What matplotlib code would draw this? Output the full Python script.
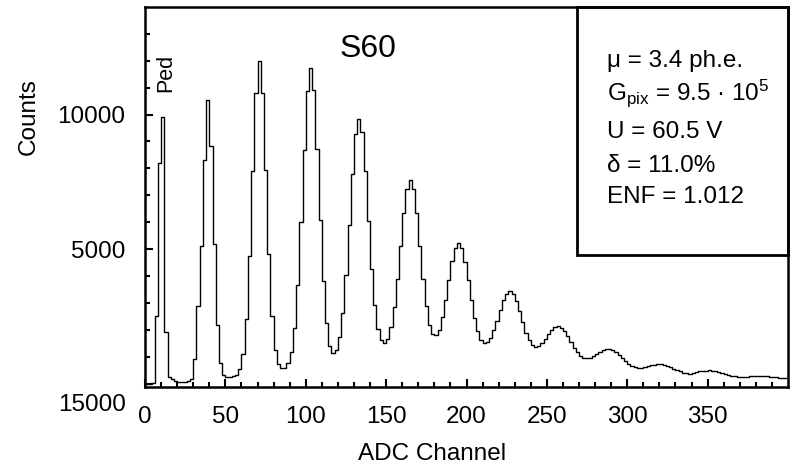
import numpy as np
import matplotlib
matplotlib.use("Agg")
import matplotlib.pyplot as plt
from matplotlib.patches import Rectangle

plt.rcParams['font.family'] = ['Liberation Sans', 'DejaVu Sans']
plt.rcParams['mathtext.fontset'] = 'custom'
plt.rcParams['mathtext.rm'] = 'Liberation Sans'
plt.rcParams['mathtext.it'] = 'Liberation Sans:italic'

# Counts per 2-channel bin (bin centres 1, 3, 5, ... 399)
counts = [
    0, 0, 20, 2500, 8200, 9900, 1900, 250, 150, 110,
    60, 40, 50, 75, 180, 900, 2900, 5110, 8300, 10550,
    8820, 5170, 2180, 760, 325, 250, 250, 262, 328, 527,
    1090, 2380, 4730, 7900, 10790, 12000, 10810, 7950, 4820, 2500,
    1250, 720, 575, 590, 750, 1165, 2060, 3670, 6000, 8670,
    10875, 11740, 10905, 8730, 6095, 3794, 2235, 1406, 1120, 1247,
    1717, 2630, 4040, 5880, 7800, 9270, 9850, 9340, 7910, 6050,
    4263, 2910, 2039, 1603, 1515, 1671, 2095, 2835, 3875, 5110,
    6330, 7240, 7570, 7240, 6327, 5105, 3886, 2866, 2175, 1827,
    1785, 2008, 2469, 3120, 3845, 4545, 5050, 5230, 5045, 4535,
    3833, 3098, 2435, 1936, 1636, 1507, 1543, 1707, 1986, 2340,
    2740, 3100, 3345, 3425, 3320, 3054, 2679, 2270, 1896, 1610,
    1430, 1358, 1390, 1498, 1658, 1835, 1992, 2106, 2140, 2076,
    1944, 1755, 1541, 1333, 1159, 1033, 960, 938, 960, 1011,
    1087, 1166, 1239, 1279, 1280, 1239, 1165, 1064, 949, 838,
    740, 665, 617, 595, 595, 613, 642, 673, 701, 720,
    715, 697, 659, 610, 555, 502, 457, 400, 375, 370,
    385, 410, 452, 473, 483, 485, 473, 451, 418, 380,
    341, 311, 280, 262, 253, 253, 251, 260, 266, 271,
    278, 280, 278, 269, 257, 244, 229, 215, 202, 192,
]
channels = np.arange(1, 2 * len(counts), 2)

x_ticks = [0, 50, 100, 150, 200, 250, 300, 350]
y_ticks = [0, 5000, 10000]
y_tick_labels = ['', '5000', '10000']
bottom_label = '15000'

box_lines = [
    'μ = 3.4 ph.e.',
    r'G$_{\mathrm{pix}}$ = 9.5 · 10$^{5}$',
    'U = 60.5 V',
    'δ = 11.0%',
    'ENF = 1.012',
]
box_line_y = [0.843, 0.755, 0.655, 0.566, 0.484]

W, H = 790, 468
fig = plt.figure(figsize=(W / 100, H / 100), dpi=100)
ax = fig.add_axes([145 / W, 1 - 387 / H, 643 / W, 380 / H])

ax.step(channels, counts, where='mid', color='black', lw=1.0)

ax.set_xlim(0, 400)
ax.set_ylim(-130, 14000)
ax.set_xticks(x_ticks)
ax.set_xticks(np.arange(0, 400, 10), minor=True)
ax.set_yticks(y_ticks)
ax.set_yticklabels(y_tick_labels)
ax.set_yticks(np.arange(0, 14000, 1000), minor=True)

ax.tick_params(which='both', direction='in', top=False, right=False,
               labelsize=17.5, pad=14, width=1.5)
ax.tick_params(which='major', length=6)
ax.tick_params(which='minor', length=3.5)
for s in ax.spines.values():
    s.set_linewidth(1.8)

fig.text(126 / W, 1 - 405 / H, bottom_label, ha='right', va='center',
         fontsize=17.5)

ax.set_xlabel('ADC Channel', fontsize=17.5)
ax.xaxis.set_label_coords(0.446, -0.148)
ax.set_ylabel('Counts', fontsize=17.5)
ax.yaxis.set_label_coords(-0.163, 0.711)

ax.text(0.347, 0.889, 'S60', transform=ax.transAxes, ha='center',
        va='center', fontsize=23)
ax.text(0.033, 0.826, 'Ped', transform=ax.transAxes, ha='center',
        va='center', fontsize=15.5, rotation=90)

ax.add_patch(Rectangle((0.672, 0.347), 0.328, 0.653, transform=ax.transAxes,
                       fill=False, lw=2, color='black', clip_on=False))
for line, yy in zip(box_lines, box_line_y):
    ax.text(0.7185, yy, line, transform=ax.transAxes, ha='left',
            va='baseline', fontsize=17.5)

fig.savefig('out.png', dpi=100)
